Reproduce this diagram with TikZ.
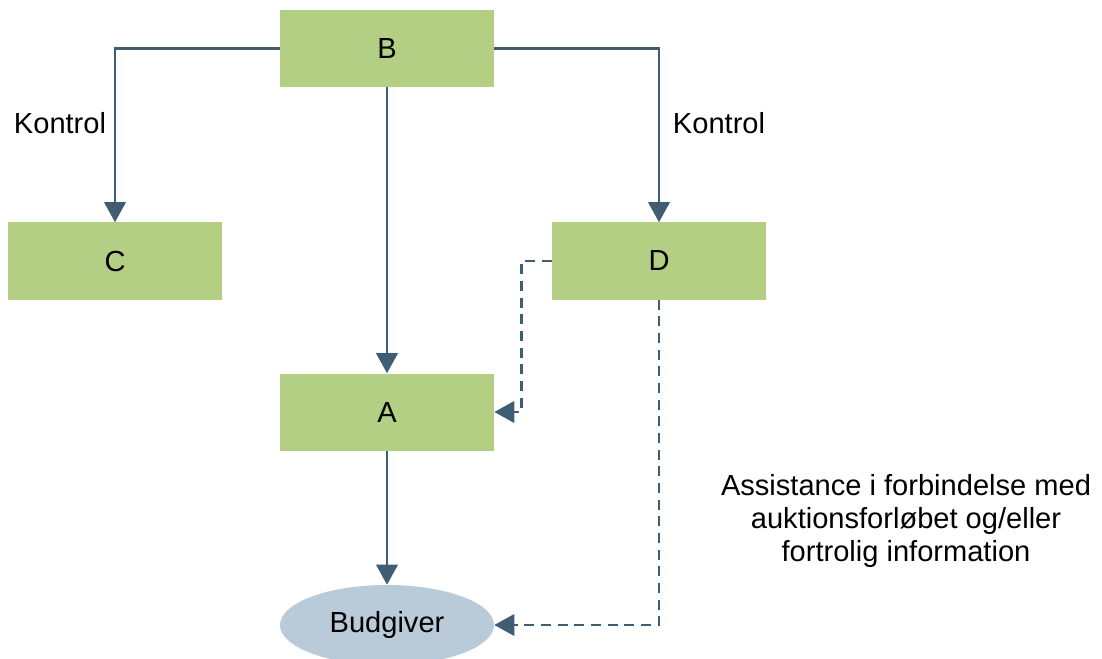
\documentclass[tikz,border=0pt]{standalone}
\usepackage{fontspec}
\setmainfont{Liberation Sans}
\usetikzlibrary{arrows.meta,shapes.geometric}

\definecolor{boxgreen}{HTML}{B3CF84}
\definecolor{linkblue}{HTML}{3F5E73}
\definecolor{ovalblue}{HTML}{B9CBD9}

\tikzset{
    box/.style={fill=boxgreen, minimum width=160.5pt, minimum height=57.75pt, inner sep=0pt},
    oval/.style={ellipse, fill=ovalblue, minimum width=160.5pt, minimum height=60pt, inner sep=0pt},
    link/.style={draw=linkblue, line width=2pt, -{Triangle[length=15pt,width=16pt]}},
    dashlink/.style={link, dash pattern=on 7.5pt off 5pt},
}

\begin{document}
\begin{tikzpicture}[x=0.75pt, y=-0.75pt, font=\fontsize{21.8}{24.75}\selectfont]
        \useasboundingbox (0,0) rectangle (1102,659);

        % Draw the boxes
        \foreach \n/\x/\y in {B/387/48.5, C/115/261, D/659/261, A/387/412} {
            \node[box] (\n) at (\x,\y) {\n};
        }
        \node[oval] (budgiver) at (387,625) {Budgiver};

        % Labels
        \node (kontrolC) at (60,123) {Kontrol};
        \node (kontrolD) at (719,123) {Kontrol};
        \node[align=center] (info) at (906,521) {Assistance i forbindelse med\\auktionsforløbet og/eller\\fortrolig information};

        % Solid arrows
        \draw[link] (B.west) -| (C.north);
        \draw[link] (B.east) -| (D.north);
        \draw[link] (B.south) -- (A.north);
        \draw[link] (A.south) -- (budgiver.north);

        % Dashed arrows from D
        \draw[dashlink] (D.west) -- ++(-30,0) |- (A.east);
        \draw[dashlink] (D.south) |- (budgiver.east);
\end{tikzpicture}
\end{document}
